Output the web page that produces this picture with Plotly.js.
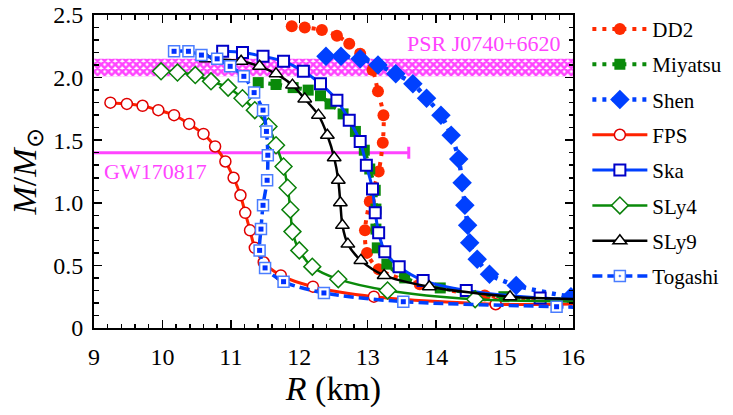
<!DOCTYPE html>
<html>
<head>
<meta charset="utf-8">
<script src="https://cdn.plot.ly/plotly-3.0.1.min.js"></script>
<style>html,body{margin:0;padding:0;background:#fff;}#chart{width:733px;height:415px;}</style>
</head>
<body>
<div id="chart"></div>
<script>
// ---- data (R in km, M in solar masses) ----
const dd2_R = [11.89, 12.08, 12.33, 12.55, 12.73, 12.89, 13.07, 13.15, 13.23, 13.22, 13.16, 13.03, 12.96, 12.99, 13.16, 13.76, 14.71, 16.3];
const dd2_M = [2.41, 2.40, 2.38, 2.335, 2.27, 2.19, 2.06, 1.89, 1.70, 1.48, 1.25, 1.01, 0.78, 0.60, 0.47, 0.35, 0.26, 0.215];

const miyatsu_R = [11.40, 11.66, 11.91, 12.13, 12.31, 12.45, 12.64, 12.82, 12.95, 13.03, 13.11, 13.12, 13.12, 13.14, 13.28, 13.54, 14.06, 14.99, 16.3];
const miyatsu_M = [1.96, 1.945, 1.92, 1.90, 1.855, 1.79, 1.71, 1.57, 1.42, 1.27, 1.10, 0.95, 0.79, 0.64, 0.51, 0.40, 0.32, 0.25, 0.22];

const shen_R = [12.39, 12.61, 12.89, 13.15, 13.41, 13.66, 13.86, 14.07, 14.22, 14.33, 14.38, 14.42, 14.46, 14.49, 14.60, 14.78, 15.17, 15.97, 16.3];
const shen_M = [2.17, 2.17, 2.15, 2.10, 2.03, 1.95, 1.835, 1.70, 1.54, 1.35, 1.16, 0.98, 0.82, 0.68, 0.55, 0.43, 0.34, 0.25, 0.235];

const fps_R = [9.24, 9.48, 9.71, 9.94, 10.17, 10.39, 10.60, 10.77, 10.92, 11.04, 11.14, 11.21, 11.28, 11.35, 11.48, 11.73, 12.20, 13.09, 14.87, 16.3];
const fps_M = [1.80, 1.79, 1.775, 1.74, 1.70, 1.63, 1.55, 1.45, 1.33, 1.20, 1.06, 0.92, 0.78, 0.64, 0.525, 0.42, 0.33, 0.25, 0.19, 0.195];

const ska_R = [10.88, 11.17, 11.47, 11.77, 12.06, 12.31, 12.55, 12.73, 12.89, 12.98, 13.07, 13.11, 13.16, 13.25, 13.46, 13.81, 14.44, 15.52, 16.3];
const ska_M = [2.21, 2.20, 2.17, 2.13, 2.05, 1.95, 1.82, 1.66, 1.49, 1.30, 1.11, 0.92, 0.76, 0.61, 0.49, 0.38, 0.30, 0.24, 0.225];

const sly4_R = [9.98, 10.22, 10.48, 10.71, 10.96, 11.17, 11.35, 11.55, 11.66, 11.77, 11.83, 11.87, 11.90, 12.00, 12.19, 12.57, 13.29, 14.57, 16.3];
const sly4_M = [2.05, 2.04, 2.02, 1.97, 1.92, 1.835, 1.74, 1.61, 1.46, 1.29, 1.12, 0.945, 0.77, 0.62, 0.49, 0.39, 0.30, 0.23, 0.21];

const sly9_R = [10.64, 11.15, 11.42, 11.66, 11.90, 12.08, 12.28, 12.41, 12.51, 12.57, 12.60, 12.63, 12.71, 12.90, 13.24, 13.90, 15.08, 16.3];
const sly9_M = [2.15, 2.13, 2.09, 2.03, 1.94, 1.83, 1.70, 1.54, 1.36, 1.18, 1.00, 0.82, 0.67, 0.54, 0.42, 0.33, 0.25, 0.23];

const togashi_R = [10.17, 10.38, 10.57, 10.80, 10.99, 11.19, 11.34, 11.47, 11.52, 11.54, 11.53, 11.47, 11.44, 11.42, 11.50, 11.77, 12.36, 13.52, 15.76, 16.3];
const togashi_M = [2.21, 2.21, 2.18, 2.15, 2.09, 2.01, 1.88, 1.74, 1.57, 1.38, 1.18, 0.98, 0.79, 0.62, 0.48, 0.37, 0.28, 0.21, 0.17, 0.16];

// observational constraints
const psr_R = [9, 16, 16, 9, 9];
const psr_M = [2.01, 2.01, 2.15, 2.15, 2.01];
const gw_R_max = [13.6];
const gw_M = [1.4];
const gw_R_minus = [5];

const xTicks = [9, 10, 11, 12, 13, 14, 15, 16];
const yTickVals = [0, 0.5, 1.0, 1.5, 2.0, 2.5];
const yTickText = ['0', '0.5', '1.0', '1.5', '2.0', '2.5'];

// ---- styling ----
const SERIF = 'Liberation Serif';
const MAG = '#ff44ff';

function series(name, R, M, lineStyle, markerStyle, group) {
  return {
    type: 'scatter', mode: 'lines+markers', name: name, x: R, y: M,
    line: Object.assign({shape: 'spline', smoothing: 0.8}, lineStyle),
    marker: markerStyle, legendgroup: group || name
  };
}

const traces = [
  {type: 'scatter', mode: 'lines', x: psr_R, y: psr_M, fill: 'toself',
   line: {width: 0, color: 'rgba(0,0,0,0)'}, fillcolor: 'rgba(0,0,0,0)',
   fillpattern: {shape: 'x', fgcolor: MAG, bgcolor: 'white', size: 5, solidity: 0.75},
   showlegend: false, hoverinfo: 'skip'},
  {type: 'scatter', mode: 'markers', x: gw_R_max, y: gw_M,
   marker: {size: 1, opacity: 0},
   error_x: {type: 'data', symmetric: false, array: [0], arrayminus: gw_R_minus,
             color: MAG, thickness: 3, width: 6},
   showlegend: false, hoverinfo: 'skip'},
  series('DD2', dd2_R, dd2_M, {color: '#ff2a00', width: 4, dash: '4px,6px'},
         {symbol: 'circle', size: 12, color: '#ff2a00', line: {width: 0}}),
  series('Miyatsu', miyatsu_R, miyatsu_M, {color: '#0a8a0a', width: 4, dash: '4px,6px'},
         {symbol: 'square', size: 11, color: '#0a8a0a', line: {width: 0}}),
  series('Shen', shen_R, shen_M, {color: '#0040ff', width: 4.5, dash: '4px,6px'},
         {symbol: 'diamond', size: 15, color: '#0040ff', line: {width: 0}}),
  series('FPS', fps_R, fps_M, {color: '#ff2200', width: 3},
         {symbol: 'circle', size: 11, color: 'white', line: {width: 1.5, color: '#e00000'}}),
  series('Ska', ska_R, ska_M, {color: '#0040ff', width: 3},
         {symbol: 'square', size: 11, color: 'white', line: {width: 2, color: '#0000c8'}}),
  series('SLy4', sly4_R, sly4_M, {color: '#0a8a0a', width: 2.5},
         {symbol: 'diamond', size: 13, color: 'white', line: {width: 1.5, color: '#0a800a'}}),
  series('SLy9', sly9_R, sly9_M, {color: 'black', width: 2.5},
         {symbol: 'triangle-up', size: 12, color: 'white', line: {width: 1.5, color: 'black'}}),
  series('Togashi', togashi_R, togashi_M, {color: '#0040ff', width: 3.5, dash: '10px,5px'},
         {symbol: 'square-dot', size: 11, color: 'white', line: {width: 1.5, color: '#4a7dff'}}),
  {type: 'scatter', mode: 'markers', x: togashi_R, y: togashi_M, legendgroup: 'Togashi',
   marker: {symbol: 'square', size: 5, color: '#0030ff'}, showlegend: false, hoverinfo: 'skip'}
];

const axisCommon = {
  showline: true, linecolor: 'black', linewidth: 2, mirror: 'allticks',
  ticks: 'inside', tickcolor: 'black', tickwidth: 1.5, showgrid: false, zeroline: false,
  ticklabeloverflow: 'allow',
  tickfont: {family: SERIF, size: 24, color: 'black'}
};

const layout = {
  width: 733, height: 415,
  margin: {l: 94, r: 160, t: 15, b: 87, autoexpand: false},
  paper_bgcolor: 'white', plot_bgcolor: 'white',
  font: {family: SERIF, color: 'black'},
  xaxis: Object.assign({}, axisCommon, {
    range: [9, 16], tickvals: xTicks, ticklen: 8, ticklabelstandoff: 6,
    minor: {dtick: 0.2, ticks: 'inside', ticklen: 4.5, tickwidth: 1.5, tickcolor: 'black'},
    title: {text: '<i>R</i> (km)', font: {family: SERIF, size: 34, color: 'black'}, standoff: 2}
  }),
  yaxis: Object.assign({}, axisCommon, {
    range: [0, 2.5], tickvals: yTickVals, ticktext: yTickText, ticklen: 8, ticklabelstandoff: 4,
    minor: {dtick: 0.1, ticks: 'inside', ticklen: 4.5, tickwidth: 1.5, tickcolor: 'black'},
    title: {text: '<i>M</i>/<i>M</i><sub>⊙</sub>', font: {family: SERIF, size: 34, color: 'black'}, standoff: 6}
  }),
  legend: {
    x: 1.03, xanchor: 'left', y: 1.02, yanchor: 'top',
    font: {family: SERIF, size: 21, color: 'black'},
    traceorder: 'grouped', tracegroupgap: 5, itemwidth: 55, maxheight: 410,
    bgcolor: 'rgba(0,0,0,0)', borderwidth: 0
  },
  annotations: [
    {text: 'PSR J0740+6620', x: 15.85, y: 2.27, xref: 'x', yref: 'y', xanchor: 'right', yanchor: 'middle',
     showarrow: false, font: {family: SERIF, size: 22, color: MAG}},
    {text: 'GW170817', x: 9.12, y: 1.25, xref: 'x', yref: 'y', xanchor: 'left', yanchor: 'middle',
     showarrow: false, font: {family: SERIF, size: 22, color: MAG}}
  ],
  showlegend: true
};

Plotly.newPlot('chart', traces, layout, {displayModeBar: false, staticPlot: true});
</script>
</body>
</html>
